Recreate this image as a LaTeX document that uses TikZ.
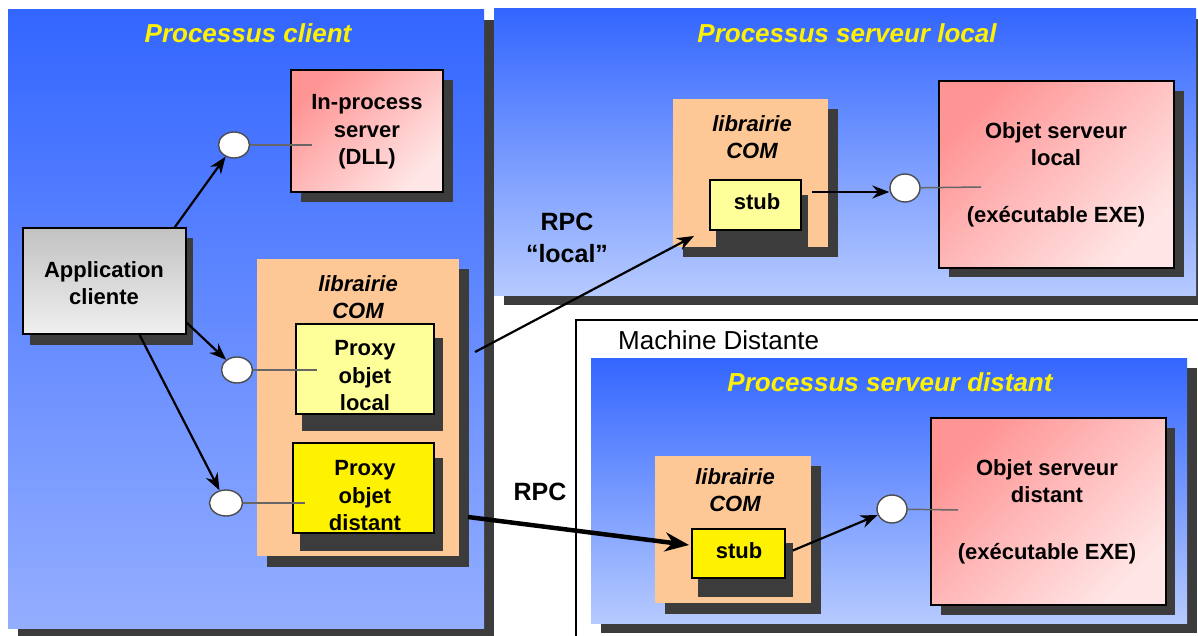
\documentclass[tikz,border=0pt]{standalone}
\usepackage{fontspec}
\setmainfont{Liberation Sans}
\usetikzlibrary{arrows.meta,shapes.geometric}

\definecolor{bluetop}{HTML}{3366FF}
\definecolor{bluebotA}{HTML}{94AEFF}
\definecolor{bluebotB}{HTML}{B6CAFF}
\definecolor{shadowc}{HTML}{3C3C3C}
\definecolor{peach}{HTML}{FDC896}
\definecolor{paleyellow}{HTML}{FFFF99}
\definecolor{pinkA}{HTML}{FF9494}
\definecolor{pinkB}{HTML}{FFE6E6}
\definecolor{greyA}{HTML}{C2C2C2}
\definecolor{greyB}{HTML}{EFEFEF}
\definecolor{stemc}{HTML}{666666}

\begin{document}
\begin{tikzpicture}[x=1pt,y=-1pt,
  boxfont/.style={font=\fontsize{22}{27.5}\selectfont\bfseries},
  box/.style={draw=black, line width=1.6pt, inner sep=0pt},
  libbox/.style={fill=peach, inner sep=0pt},
  pinkbox/.style={box, top color=pinkA, bottom color=pinkB, shading angle=45},
  txt/.style={boxfont, align=center, inner sep=0pt},
  libtxt/.style={font=\fontsize{22}{27}\selectfont\bfseries\itshape, align=center, inner sep=0pt},
  title/.style={font=\fontsize{26}{30}\selectfont\bfseries\itshape, text=yellow, inner sep=0pt},
  rpc/.style={font=\fontsize{25}{30}\selectfont\bfseries, inner sep=0pt},
  port/.style={ellipse, draw=black!70, line width=1.4pt, fill=white, minimum width=31pt, minimum height=26pt, inner sep=0pt},
  stem/.style={draw=stemc, line width=1.5pt},
  arr/.style={draw=black, line width=2.2pt, -{Stealth[length=17pt,width=13pt]}},
  thickarr/.style={draw=black, line width=4.5pt, -{Stealth[length=24pt,width=19pt]}},
]
\useasboundingbox (0,0) rectangle (1198,636);
\fill[white] (0,0) rectangle (1198,636);

% ---- process panels ----
\fill[shadowc] (18,20) rectangle (494,636);
\shade[top color=bluetop, bottom color=bluebotA] (8,10) rectangle (484,628);

\fill[shadowc] (504,19) rectangle (1198,305);
\shade[top color=bluetop, bottom color=bluebotB] (494,9) rectangle (1196,295);

% remote machine frame
\draw[black, line width=1.4pt] (576,320) rectangle (1200,640);
\node[font=\fontsize{26}{30}\selectfont, anchor=west, inner sep=0pt] (machine) at (618,340) {Machine Distante};

\fill[shadowc] (601,368) rectangle (1197,633);
\shade[top color=bluetop, bottom color=bluebotB] (591,358) rectangle (1187,623);

% ---- titles ----
\node[title] (tclient) at (248,33) {Processus client};
\node[title] (tlocal) at (847,33) {Processus serveur local};
\node[title] (tdist) at (890,382) {Processus serveur distant};

% ---- client process ----
\fill[shadowc] (301,80) rectangle (453,202);
\node[pinkbox, minimum width=152pt, minimum height=122pt] (inproc) at (367,131) {};
\node[txt] (inproctxt) at (367,132) {In-process\\server\\(DLL)};

\fill[shadowc] (30,238) rectangle (193,345);
\node[box, top color=greyA, bottom color=greyB, minimum width=163pt, minimum height=106pt] (app) at (104.5,281) {};
\node[txt] (apptxt) at (104,283) {Application\\cliente};

\fill[shadowc] (267,269) rectangle (469,567);
\node[libbox, minimum width=202pt, minimum height=297pt] (libc) at (358,407.5) {};
\node[libtxt] (libctxt) at (358,297) {librairie\\COM};

\fill[shadowc] (302,338) rectangle (443,431);
\node[box, fill=paleyellow, minimum width=138pt, minimum height=90pt] (pl) at (365,369) {};
\node[txt] (pltxt) at (365,376) {Proxy\\objet\\local};

\fill[shadowc] (300,458) rectangle (443,551);
\node[box, fill=yellow, minimum width=141pt, minimum height=90pt] (pd) at (363.5,488) {};
\node[txt] (pdtxt) at (365,496) {Proxy\\objet\\distant};

% ---- local server process ----
\fill[shadowc] (683,109) rectangle (838,257);
\node[libbox, minimum width=155pt, minimum height=148pt] (libl) at (750.5,173) {};
\node[libtxt] (libltxt) at (752,137) {librairie\\COM};

\fill[shadowc] (716,195) rectangle (808,257);
\node[box, fill=paleyellow, minimum width=91pt, minimum height=50pt] (stubl) at (755.5,205) {};
\node[txt] (stubltxt) at (757,202) {stub};

\fill[shadowc] (949,91) rectangle (1184,277);
\node[pinkbox, minimum width=235pt, minimum height=187pt] (objl) at (1056.5,174.5) {};
\node[txt, font=\fontsize{22}{27}\selectfont\bfseries] (objltxt) at (1056,175) {Objet serveur\\local\\[30pt](exécutable EXE)};

% ---- remote server process ----
\fill[shadowc] (665,466) rectangle (821,614);
\node[libbox, minimum width=156pt, minimum height=147pt] (libd) at (733,529.5) {};
\node[libtxt] (libdtxt) at (735,490) {librairie\\COM};

\fill[shadowc] (698,543) rectangle (793,597);
\node[box, fill=yellow, minimum width=93pt, minimum height=49pt] (stubd) at (738.5,553.5) {};
\node[txt] (stubdtxt) at (739,551) {stub};

\fill[shadowc] (941,428) rectangle (1175,615);
\node[pinkbox, minimum width=235pt, minimum height=187pt] (objd) at (1048.5,511.5) {};
\node[txt, font=\fontsize{22}{27}\selectfont\bfseries] (objdtxt) at (1047,512) {Objet serveur\\distant\\[30pt](exécutable EXE)};

% ---- interface ports ----
\coordinate (s1) at (312,145);
\coordinate (s2) at (317,370);
\coordinate (s3) at (305,503);
\coordinate (s4) at (981,187);
\coordinate (s5) at (958,510);

\node[port] (c1) at (234,145) {};
\node[port] (c2) at (237,370) {};
\node[port, minimum width=33pt] (c3) at (226,503) {};
\node[port, minimum width=30pt, minimum height=28pt] (c4) at (905,188) {};
\node[port, minimum width=30pt, minimum height=28pt] (c5) at (892,509) {};

\draw[stem] (c1) -- (s1);
\draw[stem] (c2) -- (s2);
\draw[stem] (c3) -- (s3);
\draw[stem] (c4) -- (s4);
\draw[stem] (c5) -- (s5);

% ---- calls ----
\draw[arr] ([xshift=-12pt]app.north east) -- (c1);
\draw[arr] ([yshift=12pt]app.south east) -- (c2);
\draw[arr] ([xshift=35pt]app.south) -- (c3);

\coordinate (rpcltail) at (475,352);
\coordinate (rpclhead) at (694,236);
\draw[arr] (rpcltail) -- (rpclhead);
\node[rpc] (rpcl1) at (567,222) {RPC};
\node[rpc] (rpcl2) at (567,254) {“local”};

\coordinate (rpcdtail) at (468,517);
\coordinate (rpcdhead) at (689,545);
\draw[thickarr] (rpcdtail) -- (rpcdhead);
\node[rpc] (rpcd) at (540,492) {RPC};

\coordinate (stubout) at ([xshift=10pt,yshift=13pt]stubl.east);
\draw[arr] (stubout) -- (stubout -| c4.west);
\draw[arr] ([xshift=7pt,yshift=3pt]stubd.east) -- (c5);
\end{tikzpicture}
\end{document}
